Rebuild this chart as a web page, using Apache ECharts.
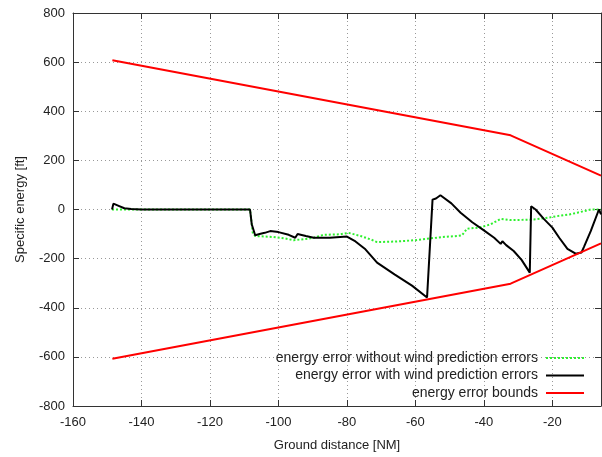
<!DOCTYPE html>
<html>
<head>
<meta charset="utf-8">
<script src="https://cdn.jsdelivr.net/npm/echarts@6/dist/echarts.min.js"></script>
<style>
  html, body { margin: 0; padding: 0; background: #fff; }
  #chart { width: 602px; height: 457px; }
</style>
</head>
<body>
<div id="chart"></div>
<script>
// ground distance [NM] / specific energy [ft]
const noWindX = [-148.6, -108.3, -107.5, -106.8, -101.4, -98, -95.6, -92, -89.7, -86.8, -82, -79.5, -76, -73, -71.2, -65.4, -60, -56.6, -52, -47.8, -46.4, -44.9, -41.5, -38.1, -35.1, -32.2, -28, -25.4, -22, -18.6, -15, -12.7, -8.8, -5.8]
const noWindY = [0, 0, -95, -108, -112, -118, -125, -120, -115, -103, -101, -95, -108, -122, -133, -130, -125, -119, -112, -108, -105, -78, -74, -61, -38, -43, -42, -41, -35, -27, -20, -13, 0, 0]

const windX = [-148.6, -148.2, -146.5, -145, -143, -140, -108.3, -107.8, -106.8, -105.5, -104, -102.4, -100, -97, -95.1, -94.4, -92, -89.7, -85, -80, -77.5, -74.6, -71.2, -66, -61, -56.6, -55, -54, -52.7, -49.5, -46.8, -43.4, -40, -37, -35.1, -34.6, -33.5, -31.3, -29, -26.6, -26.2, -24.9, -22.5, -20, -18, -15.6, -13.2, -11.5, -10.8, -8.8, -6.4, -5.8]
const windY = [0, 24, 14, 5, 2, 0, 0, -60, -105, -100, -95, -88, -92, -103, -115, -100, -108, -115, -115, -110, -130, -162, -216, -265, -310, -358, 40, 45, 58, 25, -13, -52, -85, -115, -140, -129, -145, -169, -205, -257, 13, 0, -38, -74, -115, -160, -180, -175, -153, -88, 0, -20]

const boundX = [-148.5, -32.2, -5.8]
const upperBound = [608, 302, 138]
const lowerBound = [-608, -302, -138]

const xTicks = [-160, -140, -120, -100, -80, -60, -40, -20]

const zip = (xs, ys) => xs.map((x, i) => [x, ys[i]])

const font = 'Liberation Sans, Arial, sans-serif'
const textColor = '#222'

const chart = echarts.init(document.getElementById('chart'))

const mirrorTick = { show: true, inside: true, length: 6, lineStyle: { color: '#333' } }

chart.setOption({
  animation: false,
  grid: { left: 73, top: 13, right: 1, bottom: 50 },
  legend: {
    orient: 'vertical',
    right: 17,
    top: 351,
    padding: 0,
    align: 'right',
    itemWidth: 38,
    itemHeight: 10,
    itemGap: 3.5,
    itemStyle: { opacity: 0 },
    textStyle: { fontFamily: font, fontSize: 14, color: textColor, padding: [0, 3, 0, 0] },
    data: [
      'energy error without wind prediction errors',
      'energy error with wind prediction errors',
      'energy error bounds'
    ]
  },
  xAxis: [
    {
      type: 'value',
      min: -160,
      max: -5.8,
      interval: 20,
      name: 'Ground distance [NM]',
      nameLocation: 'middle',
      nameGap: 33,
      nameTextStyle: { fontFamily: font, fontSize: 13, color: textColor },
      axisLine: { show: true, onZero: false, lineStyle: { color: '#333' } },
      axisTick: mirrorTick,
      axisLabel: {
        fontFamily: font, fontSize: 13, color: textColor, margin: 10,
        showMaxLabel: false,
        formatter: v => xTicks.includes(v) ? String(v) : ''
      },
      splitLine: { show: true, lineStyle: { color: '#999', type: [1, 3] } }
    },
    {
      type: 'value',
      position: 'top',
      min: -160,
      max: -5.8,
      interval: 20,
      axisLine: { show: true, onZero: false, lineStyle: { color: '#333' } },
      axisTick: mirrorTick,
      axisLabel: { show: false },
      splitLine: { show: false }
    }
  ],
  yAxis: [
    {
      type: 'value',
      min: -800,
      max: 800,
      interval: 200,
      name: 'Specific energy [ft]',
      nameLocation: 'middle',
      nameGap: 46,
      nameTextStyle: { fontFamily: font, fontSize: 13, color: textColor },
      axisLine: { show: true, onZero: false, lineStyle: { color: '#333' } },
      axisTick: mirrorTick,
      axisLabel: { fontFamily: font, fontSize: 13, color: textColor, margin: 8 },
      splitLine: { show: true, lineStyle: { color: '#999', type: [1, 3] } }
    },
    {
      type: 'value',
      position: 'right',
      min: -800,
      max: 800,
      interval: 200,
      axisLine: { show: true, onZero: false, lineStyle: { color: '#333' } },
      axisTick: mirrorTick,
      axisLabel: { show: false },
      splitLine: { show: false }
    }
  ],
  series: [
    {
      name: 'energy error without wind prediction errors',
      type: 'line',
      data: zip(noWindX, noWindY),
      showSymbol: false,
      symbol: 'none',
      lineStyle: { color: '#2ef02e', width: 2, type: [2, 2] },
      itemStyle: { color: '#2ef02e' }
    },
    {
      name: 'energy error with wind prediction errors',
      type: 'line',
      data: zip(windX, windY),
      showSymbol: false,
      symbol: 'none',
      lineStyle: { color: '#000', width: 2 },
      itemStyle: { color: '#000' }
    },
    {
      name: 'energy error bounds',
      type: 'line',
      data: zip(boundX, upperBound),
      showSymbol: false,
      symbol: 'none',
      lineStyle: { color: '#ff0000', width: 2 },
      itemStyle: { color: '#ff0000' }
    },
    {
      name: 'energy error bounds',
      type: 'line',
      data: zip(boundX, lowerBound),
      showSymbol: false,
      symbol: 'none',
      lineStyle: { color: '#ff0000', width: 2 },
      itemStyle: { color: '#ff0000' }
    }
  ]
})
</script>
</body>
</html>
